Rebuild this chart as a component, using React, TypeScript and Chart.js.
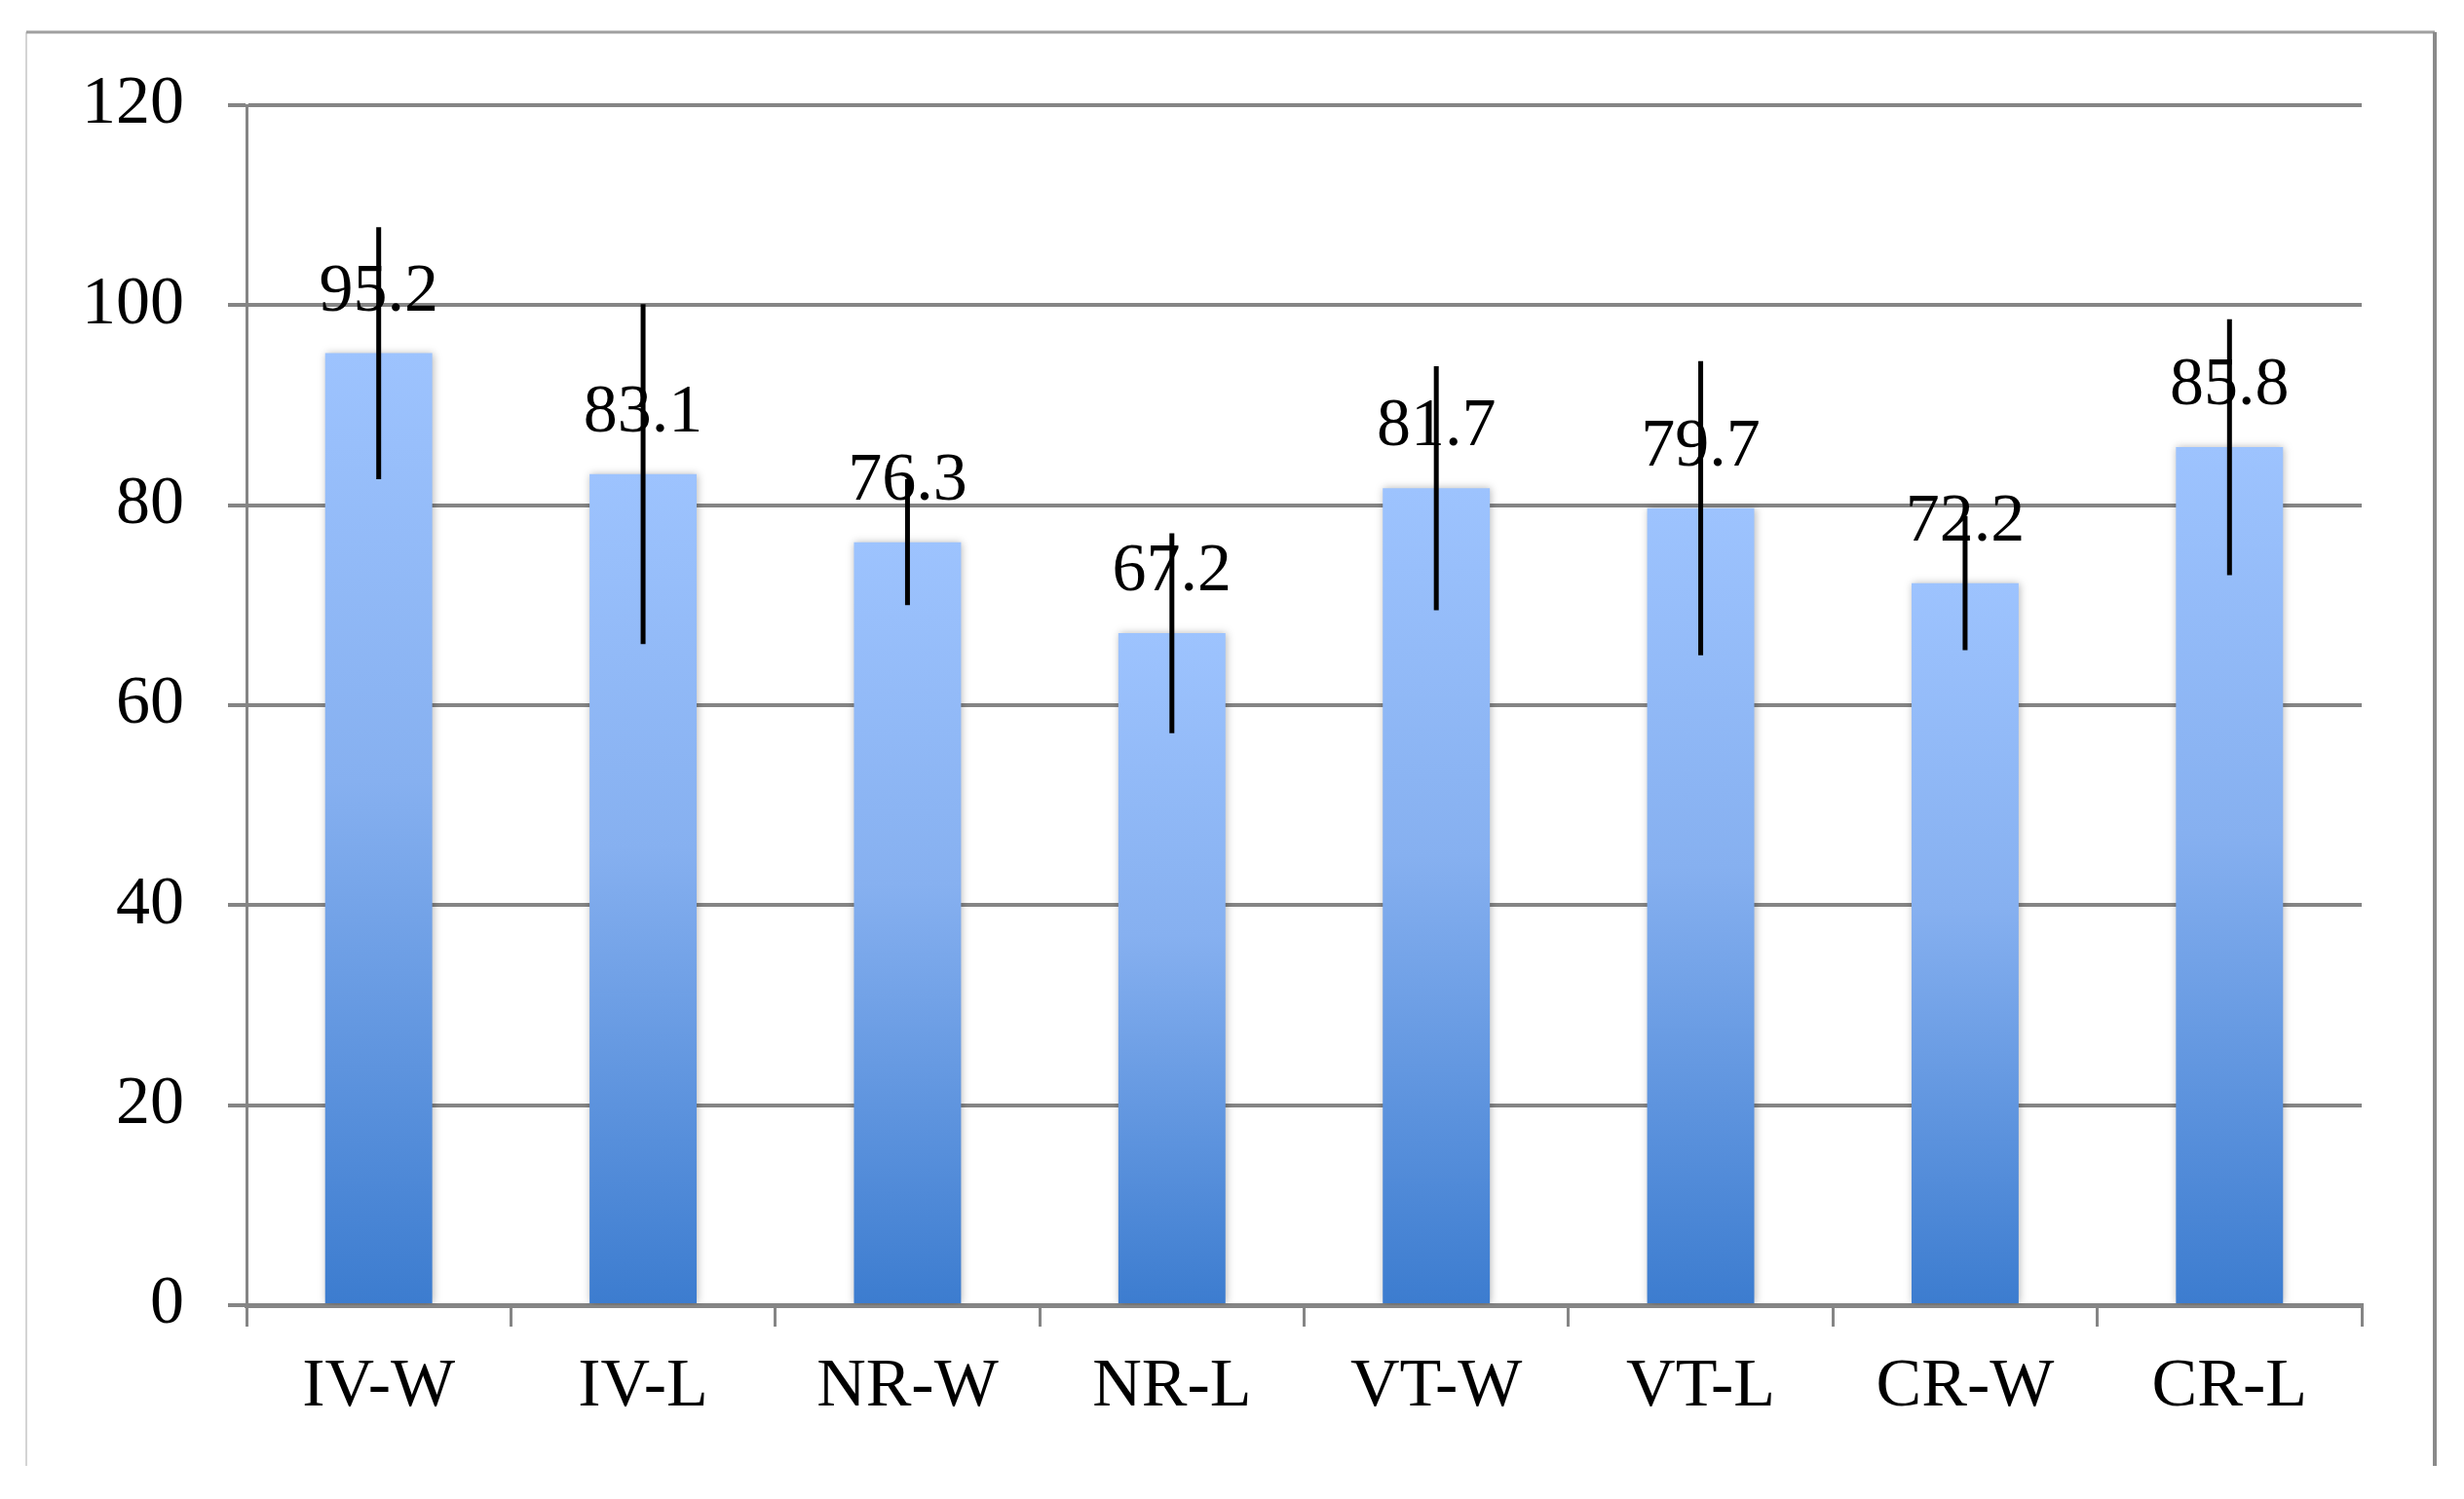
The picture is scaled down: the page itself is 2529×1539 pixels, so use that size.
import React, { useEffect, useRef } from "react";
import { Chart, registerables } from "chart.js";

Chart.register(...registerables);

const categories = ["IV-W", "IV-L", "NR-W", "NR-L", "VT-W", "VT-L", "CR-W", "CR-L"];
const means = [95.2, 83.1, 76.3, 67.2, 81.7, 79.7, 72.2, 85.8];
const errors = [12.6, 17.0, 6.3, 10.0, 12.2, 14.7, 6.7, 12.8];
const yMin = 0;
const yMax = 120;
const yStep = 20;

const FONT_FAMILY = "'Liberation Serif', 'DejaVu Serif', serif";
const FONT_SIZE = 70;
const GRID = "#858585";

const errorBarPlugin = {
  id: "errorBars",
  afterDatasetsDraw(chart: any) {
    const { ctx, scales } = chart;
    const meta = chart.getDatasetMeta(0);
    ctx.save();
    ctx.strokeStyle = "#000000";
    ctx.lineWidth = 5;
    meta.data.forEach((bar: any, i: number) => {
      const x = bar.x;
      const yTop = scales.y.getPixelForValue(means[i] + errors[i]);
      const yBot = scales.y.getPixelForValue(means[i] - errors[i]);
      ctx.beginPath();
      ctx.moveTo(x, yTop);
      ctx.lineTo(x, yBot);
      ctx.stroke();
    });
    ctx.restore();
  },
};

const labelPlugin = {
  id: "valueLabels",
  afterDraw(chart: any) {
    const { ctx } = chart;
    const meta = chart.getDatasetMeta(0);
    ctx.save();
    ctx.fillStyle = "#000000";
    ctx.font = `${FONT_SIZE}px ${FONT_FAMILY}`;
    ctx.textAlign = "center";
    ctx.textBaseline = "alphabetic";
    meta.data.forEach((bar: any, i: number) => {
      ctx.fillText(means[i].toFixed(1), bar.x, bar.y - 44);
    });
    ctx.restore();
  },
};

const framePlugin = {
  id: "frame",
  beforeDraw(chart: any) {
    const { ctx } = chart;
    ctx.save();
    ctx.fillStyle = "#ffffff";
    ctx.fillRect(0, 0, chart.width, chart.height);
    ctx.lineCap = "butt";
    ctx.strokeStyle = "#d4d4d4";
    ctx.lineWidth = 2;
    ctx.beginPath();
    ctx.moveTo(27, 33);
    ctx.lineTo(27, 1505);
    ctx.stroke();
    ctx.strokeStyle = "#a0a0a0";
    ctx.lineWidth = 3;
    ctx.beginPath();
    ctx.moveTo(27, 33);
    ctx.lineTo(2499, 33);
    ctx.stroke();
    ctx.strokeStyle = "#8a8a8a";
    ctx.lineWidth = 4;
    ctx.beginPath();
    ctx.moveTo(2499, 33);
    ctx.lineTo(2499, 1505);
    ctx.stroke();
    ctx.restore();
  },
};

const shadowPlugin = {
  id: "barShadow",
  beforeDatasetsDraw(chart: any) {
    const { ctx } = chart;
    ctx.save();
    ctx.shadowColor = "rgba(0,0,0,0.28)";
    ctx.shadowBlur = 8;
    ctx.shadowOffsetX = 1;
    ctx.shadowOffsetY = 0;
  },
  afterDatasetsDraw(chart: any) {
    chart.ctx.restore();
  },
};

export default function App() {
  const canvasRef = useRef<HTMLCanvasElement | null>(null);

  useEffect(() => {
    if (!canvasRef.current) return;
    const chart = new Chart(canvasRef.current, {
      type: "bar",
      data: {
        labels: categories,
        datasets: [
          {
            data: means,
            backgroundColor: (c: any) => {
              const ch = c.chart;
              const area = ch.chartArea;
              if (!area || c.type !== "data") return "#8cb4f0";
              const v = means[c.dataIndex];
              const top = ch.scales.y.getPixelForValue(v);
              const bottom = ch.scales.y.getPixelForValue(0);
              const g = ch.ctx.createLinearGradient(0, top, 0, bottom);
              g.addColorStop(0, "#9dc3fe");
              g.addColorStop(0.45, "#86b0f0");
              g.addColorStop(1, "#3c7ccf");
              return g;
            },
            borderWidth: 0,
            barPercentage: 0.405,
            categoryPercentage: 1,
          },
        ],
      },
      options: {
        animation: false,
        responsive: true,
        maintainAspectRatio: false,
        layout: { padding: { top: 108, right: 105, left: 0, bottom: 0 } },
        plugins: {
          legend: { display: false },
          tooltip: { enabled: false },
          title: { display: false },
        },
        scales: {
          x: {
            offset: true,
            grid: {
              display: true,
              drawOnChartArea: false,
              drawTicks: true,
              offset: true,
              tickLength: 22,
              color: GRID,
              lineWidth: 3,
            },
            border: { display: true, color: GRID, width: 5 },
            ticks: {
              color: "#000000",
              font: { family: FONT_FAMILY, size: FONT_SIZE },
              padding: 21,
              maxRotation: 0,
              autoSkip: false,
            },
            afterFit: (s: any) => {
              s.height = 199;
            },
          },
          y: {
            min: yMin,
            max: yMax,
            ticks: {
              stepSize: yStep,
              color: "#000000",
              font: { family: FONT_FAMILY, size: FONT_SIZE },
              padding: 45,
            },
            grid: {
              color: GRID,
              lineWidth: 4,
              tickLength: 19,
              drawTicks: true,
            },
            border: { display: true, color: GRID, width: 3 },
            afterFit: (s: any) => {
              s.width = 253;
            },
          },
        },
      },
      plugins: [framePlugin, shadowPlugin, errorBarPlugin, labelPlugin],
    });
    return () => chart.destroy();
  }, []);

  return (
    <div style={{ position: "absolute", left: 0, top: 0, width: 2529, height: 1539, background: "#ffffff" }}>
      <canvas ref={canvasRef} />
    </div>
  );
}
